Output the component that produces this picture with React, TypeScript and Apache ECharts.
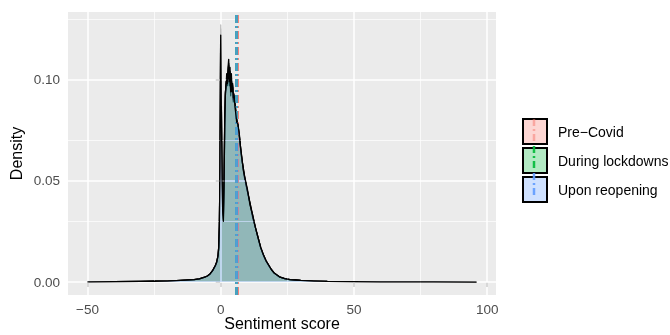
import React, { useEffect, useRef } from "react";
import * as echarts from "echarts";

const xValues = [-50, -40, -30, -25, -20, -15, -10, -8, -6, -5, -4, -3, -2, -1.5, -1, -0.75, -0.5, -0.25, 0, 0.25, 0.5, 0.75, 1, 1.25, 1.5, 1.75, 2, 2.25, 2.5, 2.75, 3, 3.25, 3.5, 3.75, 4, 4.25, 4.5, 4.75, 5, 5.5, 6, 6.5, 7, 7.5, 8, 8.5, 9, 10, 11, 12, 13, 14, 15, 16, 17, 18, 19, 20, 22, 24, 26, 28, 30, 35, 40, 50, 60, 70, 80, 96];

const preCovid = [0.0001, 0.0002, 0.0003, 0.0004, 0.0005, 0.0008, 0.0012, 0.0016, 0.0024, 0.003,
  0.004, 0.0057, 0.0082, 0.0098, 0.013, 0.017, 0.028, 0.058, 0.127, 0.088,
  0.052, 0.036, 0.031, 0.048, 0.078, 0.094, 0.096, 0.103, 0.097, 0.106,
  0.11, 0.097, 0.104, 0.092, 0.101, 0.095, 0.098, 0.089, 0.093, 0.086,
  0.08, 0.077, 0.073, 0.065, 0.06, 0.056, 0.052, 0.045, 0.039, 0.033,
  0.027, 0.022, 0.017, 0.0135, 0.0105, 0.0083, 0.0062, 0.0045, 0.0026, 0.0017,
  0.0012, 0.001, 0.0008, 0.0005, 0.0003, 0.0002, 0.0001, 0.0001, 0.0001, 0];

const duringLockdowns = [0.0001, 0.0002, 0.0003, 0.0004, 0.0005, 0.0008, 0.0012, 0.0016, 0.0024, 0.003,
  0.004, 0.0056, 0.008, 0.0097, 0.0128, 0.0168, 0.027, 0.056, 0.125, 0.086,
  0.05, 0.037, 0.033, 0.05, 0.08, 0.093, 0.098, 0.101, 0.099, 0.104,
  0.107, 0.1, 0.102, 0.095, 0.099, 0.097, 0.096, 0.09, 0.091, 0.087,
  0.081, 0.077, 0.072, 0.066, 0.06, 0.056, 0.051, 0.045, 0.039, 0.032,
  0.027, 0.022, 0.017, 0.0134, 0.0104, 0.0082, 0.0061, 0.0045, 0.0026, 0.0017,
  0.0012, 0.001, 0.0008, 0.0005, 0.0003, 0.0002, 0.0001, 0.0001, 0.0001, 0];

const uponReopening = [0.0001, 0.0002, 0.0003, 0.0004, 0.0005, 0.0008, 0.0012, 0.0016, 0.0024, 0.003,
  0.004, 0.0058, 0.0083, 0.01, 0.0132, 0.0172, 0.029, 0.057, 0.122, 0.085,
  0.051, 0.035, 0.03, 0.047, 0.077, 0.092, 0.097, 0.1, 0.098, 0.101,
  0.108, 0.099, 0.106, 0.094, 0.103, 0.094, 0.097, 0.091, 0.092, 0.085,
  0.079, 0.078, 0.072, 0.066, 0.061, 0.055, 0.052, 0.046, 0.038, 0.033,
  0.027, 0.022, 0.0172, 0.0136, 0.0106, 0.0084, 0.0062, 0.0046, 0.0026, 0.0017,
  0.0012, 0.001, 0.0008, 0.0005, 0.0003, 0.0002, 0.0001, 0.0001, 0.0001, 0];

const seriesNames = ["Pre\u2212Covid", "During lockdowns", "Upon reopening"];
const seriesColors = ["#F8766D", "#00BA38", "#619CFF"];
const meanLineColors = ["#F8766D", "#00BA38", "#4b9fc6"];
const meanValues = [6.05, 5.95, 5.9];

const xTicks = [-50, 0, 50, 100];
const xMinor = [-25, 25, 75];
const yTicks = [0, 0.05, 0.1];
const yMinor = [0.025, 0.075, 0.125];

const FONT = "'Liberation Sans', Arial, sans-serif";

function rgba(hex: string, a: number) {
  const n = parseInt(hex.slice(1), 16);
  return `rgba(${(n >> 16) & 255},${(n >> 8) & 255},${n & 255},${a})`;
}

export default function App() {
  const ref = useRef<HTMLDivElement>(null);
  useEffect(() => {
    if (!ref.current) return;
    const chart = echarts.init(ref.current, null, { renderer: "svg" });
    const datasets = [preCovid, duringLockdowns, uponReopening];
    const gridLines = [
      ...xTicks.map((v) => ({ xAxis: v, lineStyle: { width: 1.5 } })),
      ...xMinor.map((v) => ({ xAxis: v, lineStyle: { width: 0.7 } })),
      ...yTicks.map((v) => ({ yAxis: v, lineStyle: { width: 1.5 } })),
      ...yMinor.map((v) => ({ yAxis: v, lineStyle: { width: 0.7 } })),
    ];
    const legendTop = 118;
    const legendLeft = 522;
    const itemH = 25;
    const gap = 2;
    const rowH = itemH + gap;
    const keyX = legendLeft + 12;
    chart.setOption({
      animation: false,
      grid: { left: 68, top: 12, right: 174, bottom: 40, show: true, backgroundColor: "#EBEBEB", borderWidth: 0, outerBoundsMode: "none", containLabel: false },
      xAxis: {
        type: "value",
        min: -57.3,
        max: 103.3,
        name: "Sentiment score",
        nameLocation: "middle",
        nameGap: 20,
        nameMoveOverlap: false,
        nameTextStyle: { color: "#000", fontSize: 16, fontFamily: FONT },
        axisLine: { show: false },
        axisTick: { show: true, length: 5, customValues: xTicks, lineStyle: { color: "#333", width: 1.5 } },
        axisLabel: {
          customValues: xTicks,
          color: "#4D4D4D", fontSize: 13.5, fontFamily: FONT, margin: 7,
          formatter: (v: number) => String(v).replace("-", "\u2212"),
        },
        splitLine: { show: false },
      },
      yAxis: {
        type: "value",
        min: -0.0064,
        max: 0.1334,
        name: "Density",
        nameLocation: "middle",
        nameGap: 44,
        nameMoveOverlap: false,
        nameRotate: 90,
        nameTextStyle: { color: "#000", fontSize: 16, fontFamily: FONT },
        axisLine: { show: false },
        axisTick: { show: true, length: 5, customValues: yTicks, lineStyle: { color: "#333", width: 1.5 } },
        axisLabel: {
          customValues: yTicks,
          color: "#4D4D4D", fontSize: 13.5, fontFamily: FONT, margin: 8,
          formatter: (v: number) => v.toFixed(2),
        },
        splitLine: { show: false },
      },
      legend: {
        orient: "vertical",
        left: legendLeft,
        top: legendTop,
        padding: 0,
        itemWidth: 24,
        itemHeight: itemH,
        itemGap: gap,
        icon: "rect",
        itemStyle: { borderColor: "#000", borderWidth: 2 },
        textStyle: { color: "#000", fontSize: 14, fontFamily: FONT, padding: [0, 0, 0, 6] },
        data: seriesNames.map((n, i) => ({ name: n, itemStyle: { color: rgba(seriesColors[i], 0.3), borderColor: "#000", borderWidth: 2 } })),
      },
      graphic: seriesNames.map((n, i) => ({
        type: "line",
        z: 100,
        silent: true,
        shape: { x1: keyX, y1: legendTop + i * rowH + 1, x2: keyX, y2: legendTop + i * rowH + itemH - 1 },
        style: { stroke: rgba(seriesColors[i], i === 0 ? 0.5 : 0.9), lineWidth: 2.5, lineDash: [7, 3, 2, 3] },
      })),
      series: [
        {
          type: "line",
          name: "grid",
          data: [],
          z: 1,
          silent: true,
          markLine: {
            silent: true,
            symbol: "none",
            label: { show: false },
            lineStyle: { color: "#FFFFFF", type: "solid" },
            data: gridLines,
          },
        },
        ...datasets.map((d, i) => ({
          type: "line",
          name: seriesNames[i],
          data: xValues.map((x, j) => [x, d[j]]),
          showSymbol: false,
          symbol: "none",
          smooth: false,
          z: 3 + i,
          lineStyle: { color: "#000", width: 1.3, join: "round" },
          itemStyle: { color: rgba(seriesColors[i], 0.3) },
          areaStyle: { color: rgba(seriesColors[i], 0.3), opacity: 1 },
          markLine: {
            silent: true,
            symbol: "none",
            label: { show: false },
            lineStyle: { color: meanLineColors[i], width: 2.8, type: [8, 3, 2, 3] },
            data: [{ xAxis: meanValues[i] }],
          },
        })),
      ],
    });
    return () => chart.dispose();
  }, []);
  return <div ref={ref} style={{ position: "fixed", left: 0, top: 0, width: 670, height: 335 }} />;
}
